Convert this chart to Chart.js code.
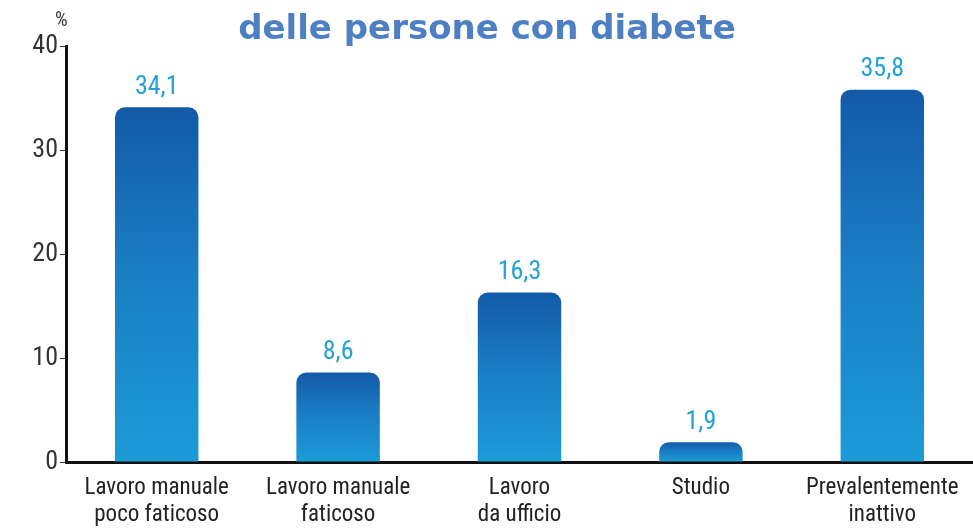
<!DOCTYPE html>
<html>
<head>
<meta charset="utf-8">
<style>
  html, body { margin: 0; padding: 0; background: #fff; }
  #wrap { width: 973px; height: 529px; position: relative; }
</style>
<script src="https://cdn.jsdelivr.net/npm/chart.js@4/dist/chart.umd.min.js"></script>
</head>
<body>
<div id="wrap"><canvas id="grafico"></canvas></div>
<script>
// attività lavorativa delle persone con diabete (%)
const categorie = [
  ["Lavoro manuale", "poco faticoso"],
  ["Lavoro manuale", "faticoso"],
  ["Lavoro", "da ufficio"],
  "Studio",
  ["Prevalentemente", "inattivo"],
];
const valori = [34.1, 8.6, 16.3, 1.9, 35.8];
const titolo = "delle persone con diabete";
const fontStretto = "'Liberation Sans Narrow', 'Roboto Condensed', 'DejaVu Sans Condensed', sans-serif";

// sfumatura di ogni barra: blu scuro in cima, azzurro alla base
function sfumatura(ctx) {
  const chart = ctx.chart;
  const area = chart.chartArea;
  if (!area || ctx.dataIndex === undefined) return "#1a7cc4";
  const y = chart.scales.y;
  const cima = y.getPixelForValue(valori[ctx.dataIndex]);
  const base = y.getPixelForValue(0);
  const g = chart.ctx.createLinearGradient(0, cima, 0, base);
  g.addColorStop(0, "#135aa8");
  g.addColorStop(0.45, "#1a7dc3");
  g.addColorStop(1, "#1c9bd8");
  return g;
}

const etichette = {
  id: "etichette",
  afterDatasetsDraw(chart) {
    const c = chart.ctx;
    const meta = chart.getDatasetMeta(0);
    c.save();
    c.font = "26px " + fontStretto;
    c.fillStyle = "#22a2d6";
    c.textAlign = "center";
    c.textBaseline = "bottom";
    meta.data.forEach((bar, i) => {
      c.fillText(valori[i].toFixed(1).replace(".", ","), bar.x, bar.y - 7);
    });
    c.restore();
  },
};

const intestazione = {
  id: "intestazione",
  afterDraw(chart) {
    const c = chart.ctx;
    c.save();
    c.font = "bold 34px 'Comic Sans MS', 'DejaVu Sans', sans-serif";
    c.fillStyle = "#4d7fc2";
    c.textAlign = "center";
    c.textBaseline = "middle";
    c.fillText(titolo, 487, 30);
    c.font = "20px " + fontStretto;
    c.fillStyle = "#333";
    c.textAlign = "left";
    c.fillText("%", 55, 21);
    c.restore();
  },
};

new Chart(document.getElementById("grafico"), {
  type: "bar",
  data: {
    labels: categorie,
    datasets: [
      {
        data: valori,
        backgroundColor: sfumatura,
        borderRadius: { topLeft: 10, topRight: 10 },
        borderSkipped: "bottom",
        barPercentage: 0.46,
        categoryPercentage: 1,
      },
    ],
  },
  options: {
    responsive: true,
    maintainAspectRatio: false,
    animation: false,
    layout: { padding: { top: 46, right: 0, left: 0, bottom: 0 } },
    plugins: {
      legend: { display: false },
      tooltip: { enabled: false },
    },
    scales: {
      x: {
        afterFit: (s) => { s.height = 67; },
        grid: { display: false },
        border: { color: "#111", width: 3 },
        ticks: {
          color: "#222",
          font: { family: fontStretto, size: 23, lineHeight: 1.2 },
          padding: 4,
          maxRotation: 0,
        },
      },
      y: {
        min: 0,
        max: 40,
        afterFit: (s) => { s.width = 66; },
        grid: { drawOnChartArea: false, tickLength: 6, color: "#333" },
        border: { color: "#111", width: 3 },
        ticks: {
          stepSize: 10,
          color: "#333",
          font: { family: fontStretto, size: 26 },
          padding: 2,
        },
      },
    },
  },
  plugins: [etichette, intestazione],
});
</script>
</body>
</html>
